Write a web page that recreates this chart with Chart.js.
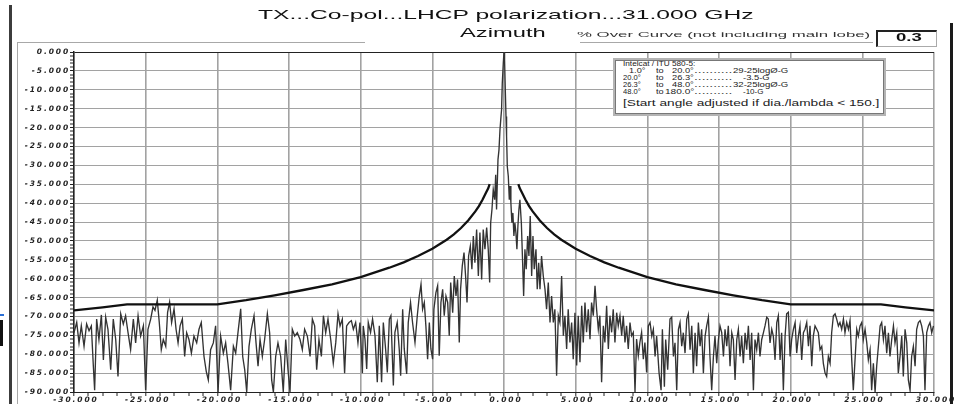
<!DOCTYPE html>
<html><head><meta charset="utf-8">
<script src="https://cdn.jsdelivr.net/npm/chart.js@4/dist/chart.umd.min.js"></script>
<style>
html,body{margin:0;padding:0;background:#fff;overflow:hidden;}
#wrap{position:relative;width:957px;height:404px;overflow:hidden;}
#c{position:absolute;left:0;top:0;}
.t{position:absolute;white-space:pre;transform-origin:0 50%;font-family:"Liberation Sans",Arial,sans-serif;color:#111;line-height:1;}
</style></head><body>
<div id="wrap"><canvas id="c" width="957" height="404"></canvas></div>
<script>
// ---------- DATA ----------
const titleText = 'TX...Co-pol...LHCP polarization...31.000 GHz';
const subTitle = 'Azimuth';
const overCurveLabel = '% Over Curve (not including main lobe)';
const overCurveValue = '0.3';
const xTickStep = 5, yTickStep = 5;

// measured pattern: [angle (deg), level (dB)]
const sidelobesLeft = [
[-30.00,-74.3],[-29.81,-71.6],[-29.65,-77.0],[-29.49,-72.5],[-29.30,-77.9],[-29.12,-72.0],[-28.95,-73.8],[-28.79,-72.5],[-28.65,-83.2],[-28.56,-89.5],[-28.42,-70.7],[-28.26,-76.1],[-28.09,-69.6],[-27.95,-81.5],[-27.79,-70.2],[-27.63,-73.4],[-27.44,-84.1],[-27.26,-70.7],[-27.09,-76.1],[-26.93,-85.9],[-26.74,-69.3],[-26.56,-72.0],[-26.40,-69.8],[-26.23,-74.3],[-26.05,-78.8],[-25.86,-70.7],[-25.70,-77.0],[-25.53,-69.8],[-25.35,-75.2],[-25.16,-72.5],[-25.00,-89.5],[-24.84,-73.4],[-24.65,-70.7],[-24.49,-67.5],[-24.35,-68.4],[-24.19,-65.7],[-24.05,-71.6],[-23.91,-78.8],[-23.77,-76.1],[-23.60,-77.9],[-23.47,-68.9],[-23.33,-66.2],[-23.19,-71.6],[-23.02,-68.0],[-22.88,-73.4],[-22.74,-77.0],[-22.60,-72.5],[-22.44,-70.7],[-22.28,-80.6],[-22.14,-74.3],[-21.98,-76.1],[-21.81,-79.7],[-21.63,-75.2],[-21.44,-77.0],[-21.28,-73.4],[-21.12,-71.6],[-20.93,-80.6],[-20.77,-84.6],[-20.63,-86.8],[-20.47,-78.8],[-20.28,-77.0],[-20.12,-72.5],[-19.95,-90.0],[-19.77,-75.2],[-19.58,-79.7],[-19.42,-77.0],[-19.26,-82.4],[-19.07,-89.5],[-18.88,-77.9],[-18.72,-79.7],[-18.56,-74.3],[-18.37,-68.0],[-18.23,-80.6],[-18.09,-84.1],[-17.95,-90.0],[-17.79,-77.9],[-17.63,-73.4],[-17.44,-69.8],[-17.30,-77.0],[-17.16,-83.2],[-17.02,-76.1],[-16.86,-80.6],[-16.70,-76.1],[-16.51,-69.3],[-16.35,-74.3],[-16.21,-86.8],[-16.09,-90.0],[-15.93,-80.6],[-15.77,-77.0],[-15.58,-80.6],[-15.40,-90.0],[-15.23,-76.1],[-15.07,-84.1],[-14.93,-90.0],[-14.77,-73.4],[-14.60,-75.2],[-14.42,-74.3],[-14.23,-76.1],[-14.07,-78.8],[-13.91,-73.4],[-13.72,-75.2],[-13.53,-80.6],[-13.37,-70.7],[-13.21,-72.5],[-13.07,-84.1],[-12.91,-76.1],[-12.74,-80.6],[-12.60,-69.8],[-12.44,-74.3],[-12.28,-70.7],[-12.09,-76.1],[-11.91,-82.4],[-11.74,-77.0],[-11.58,-69.3],[-11.44,-72.5],[-11.28,-70.7],[-11.12,-85.0],[-10.98,-72.5],[-10.81,-71.6],[-10.65,-71.1],[-10.51,-73.4],[-10.35,-71.6],[-10.19,-77.0],[-10.05,-71.6],[-9.88,-85.0]
];
const mainLobeRegion = [
[-9.82,-72.5],[-9.70,-76.0],[-9.58,-83.9],[-9.47,-71.6],[-9.31,-74.2],[-9.17,-70.7],[-9.00,-75.1],[-8.84,-87.4],[-8.70,-72.5],[-8.54,-87.4],[-8.42,-71.6],[-8.26,-78.6],[-8.14,-84.8],[-8.00,-70.7],[-7.89,-69.8],[-7.72,-88.3],[-7.61,-74.2],[-7.45,-71.6],[-7.31,-78.6],[-7.21,-85.7],[-7.07,-68.1],[-6.96,-78.6],[-6.79,-85.2],[-6.68,-71.6],[-6.52,-66.3],[-6.38,-71.6],[-6.21,-76.9],[-6.05,-69.8],[-5.91,-64.6],[-5.79,-61.5],[-5.68,-68.1],[-5.56,-66.3],[-5.45,-72.5],[-5.33,-81.3],[-5.21,-71.6],[-5.10,-78.6],[-4.98,-81.3],[-4.89,-68.1],[-4.75,-63.7],[-4.63,-61.9],[-4.52,-80.4],[-4.40,-66.3],[-4.28,-62.8],[-4.17,-69.8],[-4.05,-64.6],[-3.93,-66.3],[-3.82,-75.1],[-3.72,-61.0],[-3.58,-69.0],[-3.47,-59.3],[-3.35,-64.6],[-3.24,-60.2],[-3.12,-76.9],[-3.03,-62.8],[-2.91,-56.6],[-2.79,-53.1],[-2.68,-59.3],[-2.58,-66.3],[-2.47,-54.0],[-2.35,-51.4],[-2.24,-57.5],[-2.14,-48.7],[-2.03,-55.8],[-1.91,-47.0],[-1.79,-59.3],[-1.68,-47.8],[-1.56,-60.2],[-1.45,-47.0],[-1.33,-52.2],[-1.21,-46.5],[-1.10,-52.2],[-1.00,-61.0],[-0.93,-45.2],[-0.84,-41.7],[-0.75,-36.4],[-0.65,-39.1],[-0.58,-32.5],[-0.52,-41.7],[-0.42,-28.5],[-0.35,-25.9],[-0.28,-20.6],[-0.21,-17.1],[-0.17,-15.3],[-0.12,-8.3],[-0.05,-3.0],[0.00,0.0],[0.04,-2.1],[0.09,-10.0],[0.14,-17.1],[0.18,-22.3],[0.23,-30.3],[0.30,-32.9],[0.37,-39.1],[0.42,-35.5],[0.48,-39.9],[0.55,-45.2],[0.62,-42.6],[0.69,-48.7],[0.76,-45.2],[0.83,-47.8],[0.90,-52.2],[0.97,-46.1],[1.04,-41.7],[1.11,-39.1],[1.21,-45.2],[1.30,-55.8],[1.37,-64.6],[1.46,-52.2],[1.55,-57.5],[1.65,-48.7],[1.74,-54.0],[1.83,-43.4],[1.93,-59.3],[2.02,-48.7],[2.11,-57.5],[2.23,-52.2],[2.32,-62.8],[2.42,-55.8],[2.51,-62.8],[2.62,-54.0],[2.74,-59.3],[2.86,-62.8],[2.97,-68.1],[3.09,-61.0],[3.21,-71.6],[3.32,-64.6],[3.44,-71.6],[3.55,-68.1],[3.67,-85.7],[3.79,-69.8],[3.90,-71.6],[4.02,-59.3],[4.14,-75.1],[4.25,-69.8],[4.37,-78.6],[4.48,-68.1],[4.60,-76.9],[4.72,-71.6],[4.83,-81.3],[4.95,-69.0],[5.07,-83.0],[5.18,-69.8],[5.30,-82.1],[5.42,-67.2],[5.53,-76.9],[5.65,-66.3],[5.76,-74.2],[5.88,-68.1],[6.00,-76.0],[6.11,-66.3],[6.23,-69.8],[6.35,-61.9],[6.46,-68.1],[6.58,-73.4],[6.69,-69.8],[6.81,-87.4],[6.93,-72.5],[7.04,-76.9],[7.16,-67.2],[7.28,-78.6],[7.39,-69.8],[7.51,-74.2],[7.62,-68.1],[7.74,-76.9],[7.86,-69.0],[7.97,-72.5],[8.09,-69.8],[8.21,-75.1],[8.32,-69.8],[8.44,-76.9],[8.55,-72.5],[8.67,-78.6],[8.79,-71.6],[8.90,-75.1],[9.02,-74.2],[9.14,-90.0],[9.25,-76.0],[9.37,-80.4],[9.48,-76.9],[9.60,-74.2],[9.72,-81.3],[9.83,-76.9],[9.95,-84.8],[10.07,-72.5]
];
const sidelobesRight = [
[10.19,-71.6],[10.31,-75.2],[10.42,-73.4],[10.54,-80.6],[10.65,-75.2],[10.82,-85.0],[10.96,-89.5],[11.05,-73.4],[11.19,-88.6],[11.28,-76.1],[11.42,-84.1],[11.58,-70.7],[11.70,-70.2],[11.82,-80.6],[11.93,-77.0],[12.05,-89.5],[12.17,-73.4],[12.28,-71.6],[12.40,-77.9],[12.51,-74.3],[12.63,-79.7],[12.75,-70.7],[12.86,-69.3],[12.98,-78.8],[13.10,-72.5],[13.21,-85.0],[13.33,-74.3],[13.44,-83.2],[13.56,-71.6],[13.68,-77.9],[13.79,-73.4],[13.91,-85.0],[14.03,-75.2],[14.14,-72.5],[14.26,-70.2],[14.37,-80.6],[14.49,-89.5],[14.61,-80.6],[14.72,-75.2],[14.84,-82.4],[14.96,-76.1],[15.07,-72.5],[15.19,-74.3],[15.31,-80.6],[15.42,-73.4],[15.54,-77.9],[15.65,-72.5],[15.77,-83.2],[15.89,-74.3],[16.00,-76.1],[16.12,-86.8],[16.24,-76.1],[16.35,-73.4],[16.47,-80.6],[16.58,-75.2],[16.70,-82.4],[16.82,-74.3],[16.93,-78.8],[17.05,-72.5],[17.17,-81.5],[17.28,-74.3],[17.40,-89.5],[17.51,-76.1],[17.63,-78.8],[17.75,-74.3],[17.86,-80.6],[17.98,-76.1],[18.10,-74.3],[18.21,-72.5],[18.33,-70.2],[18.44,-70.7],[18.56,-77.0],[18.68,-73.4],[18.79,-75.2],[18.91,-81.5],[19.03,-71.6],[19.14,-69.8],[19.26,-81.5],[19.37,-74.3],[19.49,-89.5],[19.61,-75.2],[19.72,-69.3],[19.84,-68.9],[19.96,-80.6],[20.07,-76.1],[20.19,-73.4],[20.31,-71.6],[20.42,-79.7],[20.54,-75.2],[20.65,-72.5],[20.77,-81.5],[20.89,-74.3],[21.00,-73.4],[21.12,-71.6],[21.24,-77.9],[21.35,-72.5],[21.47,-83.2],[21.58,-75.2],[21.70,-72.5],[21.82,-73.4],[21.93,-74.3],[22.05,-78.8],[22.17,-77.9],[22.28,-82.4],[22.40,-85.0],[22.51,-85.9],[22.63,-80.6],[22.75,-82.4],[22.86,-74.3],[22.98,-69.8],[23.10,-69.3],[23.21,-70.7],[23.33,-72.5],[23.44,-71.6],[23.56,-73.4],[23.68,-70.7],[23.79,-74.3],[23.91,-71.6],[24.03,-73.4],[24.14,-71.1],[24.26,-81.5],[24.37,-89.5],[24.49,-81.5],[24.61,-73.4],[24.72,-75.2],[24.84,-72.5],[24.96,-71.6],[25.07,-76.1],[25.19,-73.4],[25.31,-77.0],[25.42,-81.5],[25.54,-78.8],[25.65,-89.5],[25.77,-82.4],[25.89,-90.0],[26.00,-83.2],[26.12,-77.9],[26.24,-72.5],[26.35,-71.6],[26.47,-76.1],[26.58,-72.5],[26.70,-79.7],[26.82,-74.3],[26.93,-80.6],[27.05,-76.1],[27.17,-72.5],[27.28,-77.0],[27.40,-74.3],[27.51,-85.0],[27.63,-80.6],[27.75,-75.2],[27.86,-85.9],[27.98,-73.4],[28.10,-77.0],[28.21,-86.8],[28.33,-89.5],[28.44,-80.6],[28.56,-77.9],[28.68,-83.2],[28.79,-73.4],[28.91,-71.6],[29.03,-71.1],[29.14,-72.5],[29.26,-75.2],[29.37,-89.5],[29.49,-74.3],[29.61,-72.5],[29.72,-71.6],[29.84,-74.3],[29.96,-72.5]
];
// Intelcat / ITU 580-5 envelope (normalised)
const maskLeft = [[-30,-68.4],[-28,-67.6],[-26.3,-66.8],[-20,-66.8],[-18,-65.7],[-16,-64.4],[-14,-63.0],[-12,-61.5],[-10,-59.6],[-8,-57.1],[-7,-55.7],[-6,-54.0],[-5,-52.1],[-4,-49.7],[-3.5,-48.3],[-3,-46.6],[-2.5,-44.6],[-2,-42.2],[-1.75,-40.8],[-1.5,-39.1],[-1.25,-37.2],[-1.1,-36.1],[-1,-35.0]];
const maskRight = [[1,-35.0],[1.1,-36.1],[1.25,-37.2],[1.5,-39.1],[1.75,-40.8],[2,-42.2],[2.5,-44.6],[3,-46.6],[3.5,-48.3],[4,-49.7],[5,-52.1],[6,-54.0],[7,-55.7],[8,-57.1],[10,-59.6],[12,-61.5],[14,-63.0],[16,-64.4],[18,-65.7],[20,-66.8],[26.3,-66.8],[28,-67.6],[30,-68.4]];
const legendLines = [
  ['1.0°','to','20.0°','29-25logØ-G'],
  ['20.0°','to','26.3°','-3.5-G'],
  ['26.3°','to','48.0°','32-25logØ-G'],
  ['48.0°','to','180.0°','-10-G']
];

// ---------- DECORATION helpers ----------
const wrap = document.getElementById('wrap');
function put(text, left, cy, width, size, opt) {
  opt = opt || {};
  const s = document.createElement('div');
  s.className = 't'; s.textContent = text;
  s.style.fontSize = size + 'px';
  if (opt.weight) s.style.fontWeight = opt.weight;
  if (opt.color) s.style.color = opt.color;
  s.style.left = left + 'px';
  s.style.top = (cy - size / 2) + 'px';
  wrap.appendChild(s);
  const w = s.offsetWidth;
  if (width && w) s.style.transform = 'scaleX(' + (width / w) + ')';
  return s;
}
function box(l, t, w, h, css) {
  const d = document.createElement('div');
  d.style.cssText = 'position:absolute;box-sizing:border-box;left:' + l + 'px;top:' + t + 'px;width:' + w + 'px;height:' + h + 'px;' + (css || '');
  wrap.appendChild(d); return d;
}

// ---------- CHART ----------
const pattern = sidelobesLeft.concat(mainLobeRegion, sidelobesRight).map(p => ({x: p[0], y: p[1]}));
const toXY = arr => arr.map(p => ({x: p[0], y: p[1]}));

const tickFont = {family: '"DejaVu Sans", sans-serif', size: 7.5, weight: 'bold', style: 'italic'};
const spacingPlugin = {
  id: 'spacing',
  beforeDraw(c) { c.ctx.letterSpacing = '1.9px'; },
  afterDraw(c) { c.ctx.letterSpacing = '0px'; }
};

new Chart(document.getElementById('c'), {
  type: 'scatter',
  data: {datasets: [
    {label: 'Envelope L', data: toXY(maskLeft), showLine: true, borderColor: '#111', borderWidth: 2.3, pointRadius: 0, order: 1},
    {label: 'Envelope R', data: toXY(maskRight), showLine: true, borderColor: '#111', borderWidth: 2.3, pointRadius: 0, order: 1},
    {label: 'Pattern', data: pattern, showLine: true, borderColor: '#333', borderWidth: 1.35, pointRadius: 0, order: 2}
  ]},
  options: {
    responsive: false, animation: false, events: [],
    layout: {padding: {left: 0, right: 23, top: 52, bottom: 0}},
    plugins: {legend: {display: false}, tooltip: {enabled: false}, title: {display: false}},
    scales: {
      x: {
        type: 'linear', min: -30, max: 30,
        afterFit(s) { s.height = 12; },
        ticks: {stepSize: 1, autoSkip: false, maxRotation: 0, minRotation: 0, maxTicksLimit: 200, padding: 0, labelOffset: 2,
          color: '#222', font: tickFont,
          callback: v => (Math.round(v) % xTickStep === 0 ? v.toFixed(3) : '')},
        grid: {
          color: c => (c.tick && Math.round(c.tick.value) % xTickStep === 0 ? '#a2a2a2' : 'rgba(0,0,0,0)'),
          lineWidth: c => (c.tick && Math.round(c.tick.value) % xTickStep === 0 ? 1.6 : 0),
          tickColor: '#222', tickWidth: 1, tickLength: 4
        },
        border: {color: '#222', width: 1}
      },
      y: {
        type: 'linear', min: -90, max: 0,
        afterFit(s) { s.width = 74; },
        ticks: {stepSize: 1, autoSkip: false, maxTicksLimit: 200, padding: 0,
          color: '#222', font: tickFont,
          callback: v => (Math.round(v) % yTickStep === 0 ? v.toFixed(3) : '')},
        grid: {
          color: c => {
            if (!c.tick) return 'rgba(0,0,0,0)';
            const v = Math.round(c.tick.value);
            if (v === 0) return '#222';
            return v % yTickStep === 0 ? '#a2a2a2' : 'rgba(0,0,0,0)';
          },
          lineWidth: c => (c.tick && Math.round(c.tick.value) % yTickStep === 0 ? 1 : 0),
          tickColor: '#222', tickWidth: 1, tickLength: 4
        },
        border: {color: '#222', width: 1.5}
      }
    }
  },
  plugins: [spacingPlugin]
});

// frame lines
box(9, 5, 3, 399, 'background:#3c3c3c');
box(17, 42, 1, 362, 'background:#a8a8a8');
box(17, 42, 348, 1, 'background:#a8a8a8');
box(580, 42, 293, 1, 'background:#a8a8a8');
box(950, 23, 3, 381, 'background:#1a1a1a');
// value box
box(876, 30, 61, 17, 'border-left:2px solid #222;border-top:2px solid #222;border-right:1px solid #aaa;border-bottom:1px solid #aaa;background:#fff');
// legend box
box(613, 58, 273, 58, 'border:2px solid #b4b4b4;background:#fff');
box(615, 60, 269, 54, 'border:1px solid #777');
// left edge marks
box(0, 314, 4, 2, 'background:#2b6fd6');
box(0, 320, 3, 26, 'background:#111');

// texts
put(titleText, 258, 14.7, 495, 13);
put(subTitle, 460, 32.5, 85, 12);
put(overCurveLabel, 577, 35, 294, 8, {color: '#333'});
put(overCurveValue, 896, 37.5, 26, 10, {weight: 'bold'});
put('Intelcat / ITU 580-5:', 623, 64.2, 72, 8, {color: '#222'});
const rowsY = [71, 78, 85, 92];
legendLines.forEach((r, i) => {
  const y = rowsY[i];
  const a0 = r[0].length > 4 ? 623 : 629;
  put(r[0], a0, y, r[0].length > 4 ? 18 : 16, 8, {color: '#222'});
  put(r[1], 656, y, 8, 8, {color: '#222'});
  const b0 = r[2].length > 5 ? 665 : 672;
  put(r[2], b0, y, 694 - b0, 8, {color: '#222'});
  put('..........', 694, y, 38, 8, {color: '#222'});
  const vw = r[3].length > 7 ? 55 : (r[3].length > 5 ? 27 : 20);
  put(r[3], r[3].length > 7 ? 733 : 743, y, vw, 8, {color: '#222'});
});
put('[Start angle adjusted if dia./lambda < 150.]', 623, 102.5, 256, 9.5, {color: '#222'});
</script>
</body></html>
